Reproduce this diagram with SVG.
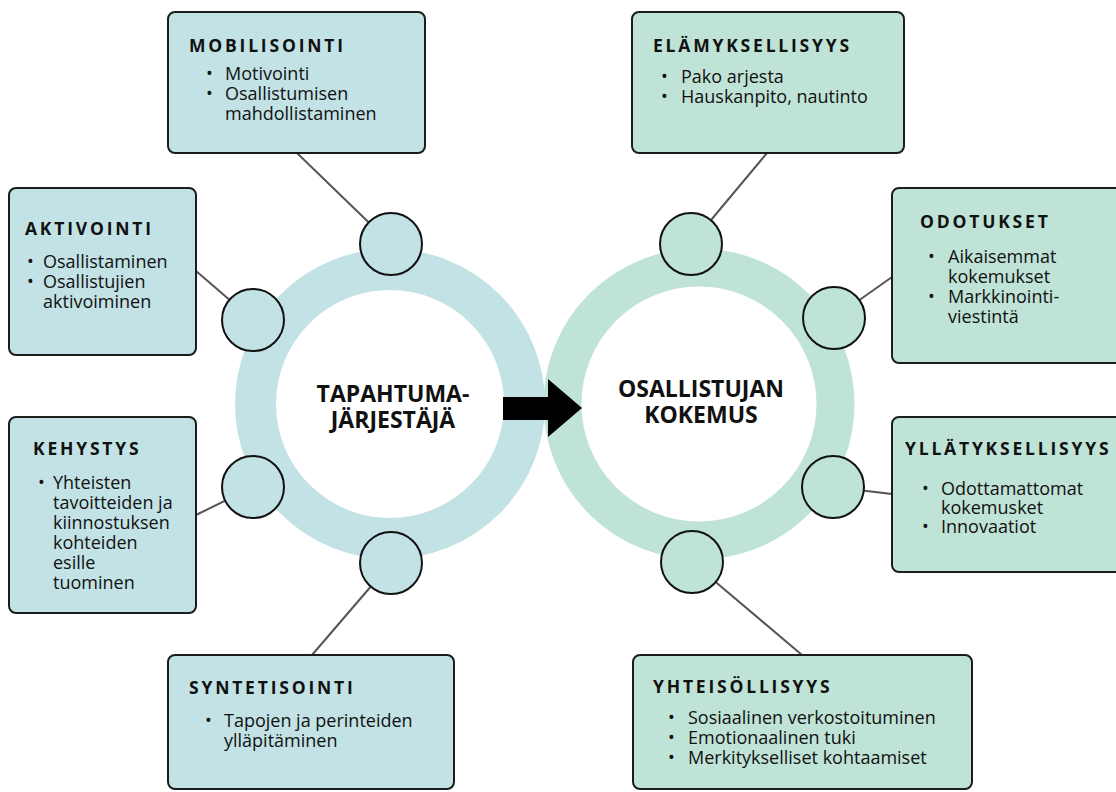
<svg xmlns="http://www.w3.org/2000/svg" width="1116" height="792" viewBox="0 0 1116 792">
  <style>
    .box { stroke: #1c1c1c; stroke-width: 2; }
    .blue { fill: #c2e2e5; }
    .green { fill: #bfe3d6; }
    .title { font-family: "Open Sans", "Liberation Sans", sans-serif; font-weight: 700; font-size: 17.5px; letter-spacing: 2.8px; fill: #111; }
    .item { font-family: "Open Sans", "Liberation Sans", sans-serif; font-size: 18px; fill: #111; }
    .center { font-family: "Open Sans", "Liberation Sans", sans-serif; font-weight: 700; font-size: 23px; fill: #111; text-anchor: middle; }
    .link { stroke: #555; stroke-width: 2; fill: none; }
    .knob { stroke: #111; stroke-width: 2; }
  </style>

  <rect width="1116" height="792" fill="#ffffff"/>

  <!-- rings -->
  <g id="ring-organizer">
    <circle cx="390" cy="404" r="134.5" fill="none" stroke="#c2e2e5" stroke-width="41"/>
  </g>
  <g id="ring-participant">
    <circle cx="699" cy="404" r="136.5" fill="none" stroke="#bfe3d6" stroke-width="38"/>
  </g>

  <!-- connectors -->
  <g id="connectors">
    <line class="link" x1="297" y1="153" x2="391" y2="244"/>
    <line class="link" x1="196" y1="271" x2="253" y2="320"/>
    <line class="link" x1="196" y1="515" x2="253" y2="487"/>
    <line class="link" x1="312" y1="655" x2="391" y2="563"/>
    <line class="link" x1="767" y1="153" x2="691" y2="244"/>
    <line class="link" x1="892" y1="277" x2="834" y2="318"/>
    <line class="link" x1="892" y1="494" x2="833" y2="487"/>
    <line class="link" x1="802" y1="655" x2="692" y2="562"/>
    <polygon id="arrow" points="503,397 548,397 548,379 582,408 548,437 548,420 503,420" fill="#000"/>
  </g>

  <!-- small joints on the rings -->
  <g id="joints">
    <circle class="knob blue" cx="391" cy="244" r="31"/>
    <circle class="knob blue" cx="253" cy="320" r="31"/>
    <circle class="knob blue" cx="253" cy="487" r="31"/>
    <circle class="knob blue" cx="391" cy="563" r="31"/>
    <circle class="knob green" cx="691" cy="244" r="31"/>
    <circle class="knob green" cx="834" cy="318" r="31"/>
    <circle class="knob green" cx="833" cy="487" r="31"/>
    <circle class="knob green" cx="692" cy="562" r="31"/>
  </g>

  <!-- ring labels -->
  <g id="label-organizer">
    <text class="center"><tspan x="393" y="402">TAPAHTUMA-</tspan><tspan x="393" y="428">JÄRJESTÄJÄ</tspan></text>
  </g>
  <g id="label-participant">
    <text class="center"><tspan x="701" y="397">OSALLISTUJAN</tspan><tspan x="701" y="423">KOKEMUS</tspan></text>
  </g>

  <!-- left boxes -->
  <g id="mobilisointi">
    <rect class="box blue" x="168" y="12" width="257" height="141" rx="7"/>
    <text class="title" x="189" y="52">MOBILISOINTI</text>
    <text class="item"><tspan x="206" y="80">•</tspan><tspan x="225" y="80">Motivointi</tspan><tspan x="206" y="100">•</tspan><tspan x="225" y="100">Osallistumisen</tspan><tspan x="225" y="120">mahdollistaminen</tspan></text>
  </g>
  <g id="aktivointi">
    <rect class="box blue" x="9" y="188" width="187" height="167" rx="7"/>
    <text class="title" x="25" y="235">AKTIVOINTI</text>
    <text class="item"><tspan x="27" y="268">•</tspan><tspan x="43" y="268">Osallistaminen</tspan><tspan x="27" y="288">•</tspan><tspan x="43" y="288">Osallistujien</tspan><tspan x="43" y="308">aktivoiminen</tspan></text>
  </g>
  <g id="kehystys">
    <rect class="box blue" x="9" y="417" width="187" height="196" rx="7"/>
    <text class="title" x="33" y="455">KEHYSTYS</text>
    <text class="item"><tspan x="38" y="489">•</tspan><tspan x="53" y="489">Yhteisten</tspan><tspan x="53" y="509">tavoitteiden ja</tspan><tspan x="53" y="529">kiinnostuksen</tspan><tspan x="53" y="549">kohteiden</tspan><tspan x="53" y="569">esille</tspan><tspan x="53" y="589">tuominen</tspan></text>
  </g>
  <g id="syntetisointi">
    <rect class="box blue" x="168" y="655" width="286" height="134" rx="7"/>
    <text class="title" x="189" y="694">SYNTETISOINTI</text>
    <text class="item"><tspan x="205" y="727">•</tspan><tspan x="224" y="727">Tapojen ja perinteiden</tspan><tspan x="224" y="747">ylläpitäminen</tspan></text>
  </g>

  <!-- right boxes -->
  <g id="elamyksellisyys">
    <rect class="box green" x="632" y="12" width="272" height="141" rx="7"/>
    <text class="title" x="653" y="52">ELÄMYKSELLISYYS</text>
    <text class="item"><tspan x="661" y="83">•</tspan><tspan x="681" y="83">Pako arjesta</tspan><tspan x="661" y="103">•</tspan><tspan x="681" y="103">Hauskanpito, nautinto</tspan></text>
  </g>
  <g id="odotukset">
    <rect class="box green" x="892" y="188" width="240" height="175" rx="7"/>
    <text class="title" x="920" y="228">ODOTUKSET</text>
    <text class="item"><tspan x="928" y="263">•</tspan><tspan x="948" y="263">Aikaisemmat</tspan><tspan x="948" y="283">kokemukset</tspan><tspan x="928" y="303">•</tspan><tspan x="948" y="303">Markkinointi-</tspan><tspan x="948" y="323">viestintä</tspan></text>
  </g>
  <g id="yllatyksellisyys">
    <rect class="box green" x="892" y="417" width="240" height="155" rx="7"/>
    <text class="title" x="905" y="455">YLLÄTYKSELLISYYS</text>
    <text class="item"><tspan x="922" y="495">•</tspan><tspan x="941" y="495">Odottamattomat</tspan><tspan x="941" y="514">kokemusket</tspan><tspan x="922" y="533">•</tspan><tspan x="941" y="533">Innovaatiot</tspan></text>
  </g>
  <g id="yhteisollisyys">
    <rect class="box green" x="633" y="655" width="339" height="134" rx="7"/>
    <text class="title" x="653" y="693">YHTEISÖLLISYYS</text>
    <text class="item"><tspan x="668" y="724">•</tspan><tspan x="688" y="724">Sosiaalinen verkostoituminen</tspan><tspan x="668" y="744">•</tspan><tspan x="688" y="744">Emotionaalinen tuki</tspan><tspan x="668" y="764">•</tspan><tspan x="688" y="764">Merkitykselliset kohtaamiset</tspan></text>
  </g>
</svg>
